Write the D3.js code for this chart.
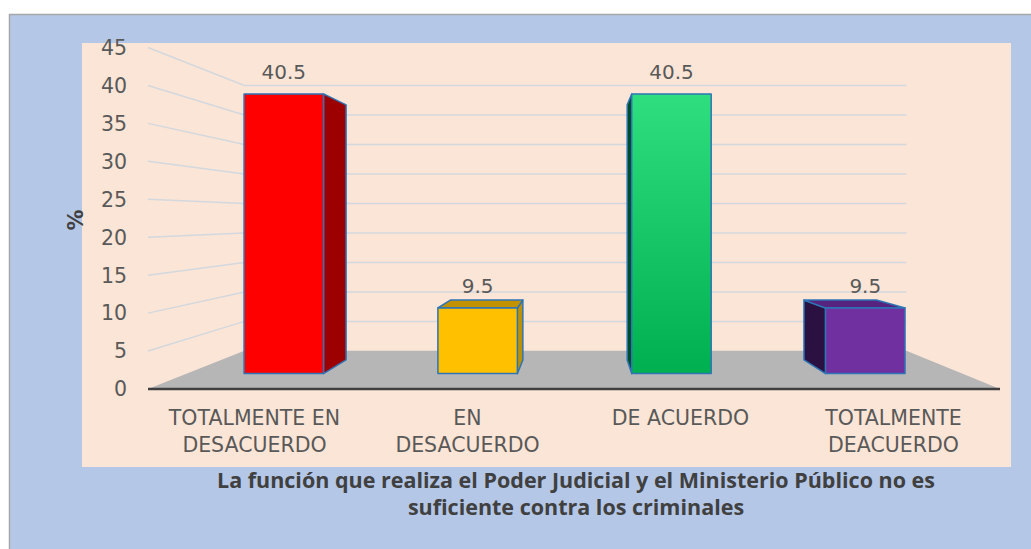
<!DOCTYPE html>
<html><head><meta charset="utf-8">
<script src="https://cdn.jsdelivr.net/npm/d3@7"></script>
<style>body{margin:0;background:#fff;} svg{display:block}</style>
</head><body>
<script>
// ---- data ----
const categories = [["TOTALMENTE EN","DESACUERDO"],["EN","DESACUERDO"],["DE ACUERDO"],["TOTALMENTE","DEACUERDO"]];
const values = [40.5, 9.5, 40.5, 9.5];
const valueLabels = ["40.5","9.5","40.5","9.5"];
const yTicks = [0,5,10,15,20,25,30,35,40,45];
const frontColors = ["#ff0000","#ffc000","#00b050","#7030a0"];
const sideColors = ["#9c0000","#bf9000","#004d28","#2a1142"];
const topColors = ["#a80000","#c29200","#0c7a3c","#56237f"];
const titleLines = ["La función que realiza el Poder Judicial y el Ministerio Público no es","suficiente contra los criminales"];
const yLabel = "%";

// ---- layout ----
const W = 1031, H = 549;
const svg = d3.select("body").append("svg").attr("width", W).attr("height", H);
const defs = svg.append("defs");
const g = defs.append("linearGradient").attr("id","greenGrad").attr("x1",0).attr("y1",0).attr("x2",0).attr("y2",1);
g.append("stop").attr("offset","0%").attr("stop-color","#2fde7e");
g.append("stop").attr("offset","100%").attr("stop-color","#00b050");

svg.append("rect").attr("x",9.5).attr("y",14.5).attr("width",W).attr("height",H)
  .attr("fill","#b4c7e7").attr("stroke","#a6a6a6").attr("stroke-width",1.5);
svg.append("rect").attr("x",82).attr("y",43).attr("width",929).attr("height",424).attr("fill","#fbe5d6");

const x = d3.scaleBand().domain(d3.range(categories.length)).range([148,1000]).paddingInner(0.59).paddingOuter(0.295);
const y = d3.scaleLinear().domain([0,45]).range([389,47.5]);

const V = {x:580, y:218};
const kWall = 0.777, kFront = 0.91, kBack = 0.83;
const P = (X, Y, k) => [V.x + (X - V.x)*k, V.y + (Y - V.y)*k];
const line = d3.line();

// floor
const x0 = x.range()[0], x1 = x.range()[1];
svg.append("path").attr("d", line([P(x0,y(0),1),P(x0,y(0),kWall),P(x1,y(0),kWall),P(x1,y(0),1)]) + "Z")
  .attr("fill","#b6b6b6");

// gridlines (side wall + back wall)
svg.append("g").selectAll("path").data(yTicks.filter(t=>t>0)).join("path")
  .attr("d", t => line([P(x0,y(t),1),P(x0,y(t),kWall),P(x1,y(t),kWall)]))
  .attr("fill","none").attr("stroke","#d3d8de").attr("stroke-width",1.5);

// axis line
svg.append("line").attr("x1",x0).attr("x2",x1).attr("y1",y(0)).attr("y2",y(0))
  .attr("stroke","#404040").attr("stroke-width",2.5);

// tick labels
svg.append("g").selectAll("text").data(yTicks).join("text")
  .attr("x",127).attr("y",t=>y(t)).attr("dy","0.36em").attr("text-anchor","end")
  .attr("font-family","DejaVu Sans").attr("font-size",20.5).attr("fill","#595959").text(t=>t);

// y label
svg.append("text").attr("transform","translate(83,220) rotate(-90)").attr("text-anchor","middle")
  .attr("font-family","DejaVu Sans").attr("font-weight","bold").attr("font-size",21).attr("fill","#404040").text(yLabel);

// bars
const bars = svg.append("g");
values.forEach((v,i)=>{
  const X0 = x(i), X1 = x(i)+x.bandwidth(), Yb = y(0), Yt = y(v);
  const gb = bars.append("g").attr("stroke","#2e75b6").attr("stroke-width",1.5).attr("stroke-linejoin","round");
  if (X1 < V.x) {
    gb.append("path").attr("d", line([P(X1,Yt,kFront),P(X1,Yt,kBack),P(X1,Yb,kBack),P(X1,Yb,kFront)])+"Z").attr("fill",sideColors[i]);
  } else if (X0 > V.x) {
    gb.append("path").attr("d", line([P(X0,Yt,kFront),P(X0,Yt,kBack),P(X0,Yb,kBack),P(X0,Yb,kFront)])+"Z").attr("fill",sideColors[i]);
  }
  if (Yt > V.y) {
    gb.append("path").attr("d", line([P(X0,Yt,kFront),P(X1,Yt,kFront),P(X1,Yt,kBack),P(X0,Yt,kBack)])+"Z").attr("fill",topColors[i]);
  }
  const a = P(X0,Yt,kFront), b = P(X1,Yb,kFront);
  gb.append("rect").attr("x",a[0]).attr("y",a[1]).attr("width",b[0]-a[0]).attr("height",b[1]-a[1])
    .attr("fill", i===2 ? "url(#greenGrad)" : frontColors[i]);
  svg.append("text").attr("x",(a[0]+b[0])/2).attr("y",a[1]-15).attr("text-anchor","middle")
    .attr("font-family","DejaVu Sans").attr("font-size",20).attr("fill","#595959").text(valueLabels[i]);
});

// category labels
svg.append("g").selectAll("text").data(categories).join("text")
  .attr("x",(d,i)=>x(i)+x.bandwidth()/2).attr("y",425).attr("text-anchor","middle")
  .attr("font-family","DejaVu Sans").attr("font-size",20.5).attr("fill","#595959")
  .each(function(d){
    d3.select(this).selectAll("tspan").data(d).join("tspan")
      .attr("x",d3.select(this).attr("x")).attr("dy",(s,j)=>j?27:0).text(s=>s);
  });

// title
svg.append("g").selectAll("text").data(titleLines).join("text")
  .attr("x",576).attr("y",(d,i)=>488+i*27).attr("text-anchor","middle")
  .attr("font-family","Open Sans").attr("font-weight","bold").attr("font-size",21.5).attr("fill","#404040")
  .text(d=>d);
</script>
</body></html>
